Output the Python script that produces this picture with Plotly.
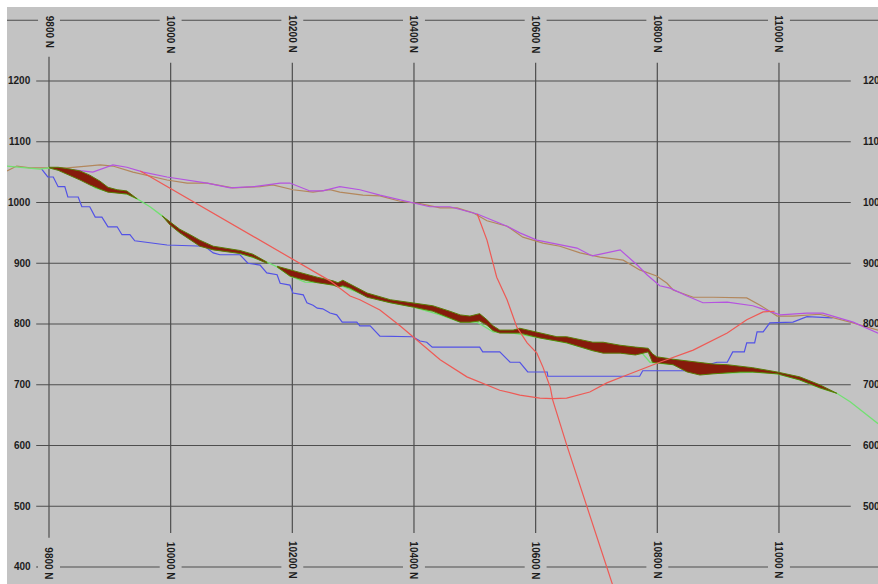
import plotly.graph_objects as go

# ---- section frame ----
northing_ticks = [9800, 10000, 10200, 10400, 10600, 10800, 11000]
northing_labels = ["9800 N", "10000 N", "10200 N", "10400 N", "10600 N", "10800 N", "11000 N"]
elev_ticks = [500, 600, 700, 800, 900, 1000, 1100, 1200]
elev_labels = ["500", "600", "700", "800", "900", "1000", "1100", "1200"]
frame_bottom = 400
frame_top = 1300

# ---- surfaces and traces (northing, elevation) ----
topo_n = [9731, 9752, 9785, 9800, 9826, 9851, 9876, 9892, 9908, 9928, 9945, 9966, 9986,
          10015, 10048, 10070, 10102, 10135, 10158, 10175, 10196, 10221, 10245, 10267,
          10283, 10323, 10361, 10398, 10443, 10476, 10504, 10530, 10563, 10607, 10651,
          10694, 10739, 10776, 10788, 10826, 10870, 10915, 10957, 10997, 11034, 11067,
          11095, 11117, 11141, 11163]
topo_z = [1060, 1058, 1055, 1057, 1052, 1042, 1024, 1019, 1017, 1014, 1006, 993, 978,
          951, 930, 923, 920, 910, 902, 894, 879, 869, 868, 864,
          862, 846, 835, 828, 815, 803, 803, 787, 785, 777, 769,
          756, 754, 751, 737, 733, 718, 719, 721, 718, 708, 695,
          686, 672, 654, 636]

brown_n = [9731, 9747, 9769, 9800, 9830, 9862, 9884, 9905, 9938, 9994, 10027, 10060, 10102,
           10147, 10168, 10201, 10234, 10262, 10278, 10316, 10344, 10377, 10410, 10443,
           10471, 10497, 10520, 10553, 10579, 10612, 10640, 10673, 10706, 10744, 10771,
           10799, 10816, 10826, 10859, 10892, 10947, 10969, 10997, 11023, 11067, 11117, 11163]
brown_z = [1052, 1060, 1057, 1057, 1057, 1060, 1062, 1060, 1050, 1037, 1032, 1032, 1024,
           1026, 1029, 1021, 1017, 1021, 1017, 1012, 1011, 1002, 998, 991,
           991, 983, 970, 961, 943, 933, 928, 917, 910, 905, 889,
           879, 867, 856, 844, 844, 843, 831, 813, 813, 816, 803, 790]

purple_n = [9800, 9830, 9872, 9905, 9928, 9955, 9994, 10027, 10060, 10098, 10135, 10180,
            10196, 10229, 10250, 10278, 10311, 10344, 10377, 10398, 10426, 10459, 10487,
            10504, 10553, 10574, 10602, 10645, 10668, 10693, 10739, 10767, 10783, 10804,
            10821, 10849, 10875, 10915, 10957, 11002, 11046, 11072, 11122, 11163]
purple_z = [1057, 1055, 1050, 1062, 1058, 1050, 1042, 1037, 1032, 1024, 1026, 1032,
            1032, 1019, 1019, 1026, 1021, 1012, 1004, 999, 993, 993, 986,
            981, 961, 950, 938, 930, 925, 912, 922, 897, 881, 863,
            859, 846, 835, 836, 830, 815, 818, 818, 803, 785]

blue_n = [9788, 9798, 9807, 9815, 9826, 9831, 9848, 9854, 9867, 9876, 9887, 9897, 9912,
          9920, 9933, 9941, 9994, 10037, 10056, 10070, 10081, 10114, 10127, 10147, 10158,
          10175, 10180, 10196, 10201, 10218, 10224, 10234, 10241, 10250, 10262, 10273,
          10282, 10306, 10311, 10328, 10344, 10398, 10410, 10421, 10430, 10508, 10513,
          10541, 10558, 10574, 10587, 10619, 10620, 10771, 10776, 10849, 10898, 10915,
          10924, 10943, 10947, 10960, 10964, 10974, 10985, 11023, 11046, 11088]
blue_z = [1055, 1042, 1042, 1026, 1026, 1009, 1009, 993, 993, 976, 976, 960, 960,
          947, 947, 937, 930, 928, 928, 917, 914, 914, 900, 897, 884,
          881, 867, 864, 851, 848, 835, 831, 826, 825, 818, 815,
          803, 803, 797, 797, 780, 779, 772, 770, 762, 762, 754,
          754, 737, 737, 721, 721, 714, 714, 723, 723, 737, 737,
          754, 754, 769, 769, 787, 787, 802, 803, 812, 810]

red_a_n = [9950, 10213, 10262, 10295, 10311, 10344, 10377, 10410, 10443, 10487, 10541,
           10574, 10607, 10628, 10651, 10689, 10717, 10750, 10804, 10859, 10915, 10947,
           10974, 10993]
red_a_z = [1052, 899, 871, 846, 840, 823, 797, 769, 741, 713, 691,
           683, 678, 677, 678, 688, 703, 716, 737, 757, 785, 807,
           820, 821]

red_b_n = [10504, 10520, 10536, 10553, 10569, 10586, 10602, 10612, 10624, 10628, 10651,
           10684, 10730]
red_b_z = [981, 938, 877, 840, 795, 769, 752, 729, 696, 675, 601,
           499, 360]

# ---- mineralised zone, three lenses (top / bottom elevations) ----
lens1_n = [9800, 9815, 9835, 9851, 9867, 9884, 9897, 9912, 9928, 9945]
lens1_top = [1058, 1058, 1055, 1052, 1045, 1035, 1025, 1021, 1019, 1007]
lens1_bot = [1057, 1053, 1044, 1037, 1029, 1022, 1017, 1016, 1014, 1006]

lens2_n = [9986, 9999, 10015, 10032, 10048, 10070, 10089, 10114, 10135, 10158]
lens2_top = [978, 968, 956, 947, 938, 928, 925, 921, 915, 902]
lens2_bot = [978, 963, 950, 938, 928, 922, 920, 916, 910, 900]

lens3_n = [10175, 10196, 10213, 10241, 10267, 10275, 10283, 10295, 10323, 10361, 10398,
           10431, 10459, 10476, 10492, 10508, 10520, 10530, 10541, 10563, 10574, 10607,
           10635, 10651, 10673, 10694, 10711, 10739, 10764, 10785, 10792, 10799, 10826,
           10849, 10870, 10892, 10915, 10936, 10957, 10997, 11034, 11067, 11095]
lens3_top = [895, 889, 884, 877, 871, 868, 872, 866, 851, 840, 835,
             830, 821, 815, 813, 817, 807, 797, 790, 790, 793, 785,
             779, 779, 775, 770, 770, 765, 762, 760, 751, 746, 742,
             739, 736, 734, 733, 731, 728, 721, 713, 700, 687]
lens3_bot = [894, 879, 874, 868, 864, 861, 863, 859, 844, 835, 828,
             821, 810, 803, 803, 805, 798, 789, 785, 785, 785, 777,
             772, 769, 762, 756, 752, 752, 749, 754, 737, 737, 733,
             721, 716, 718, 719, 721, 721, 718, 708, 695, 686]

# ---- view extents ----
X_RANGE = [9730.96, 11162.8]
Y_RANGE = [372.0, 1321.8]
GRID_X0, GRID_X1 = 9779, 11118      # extent of the interior elevation lines
GAP = 18                             # half-width of the break around each northing label
FRAME_X0_BOTTOM = 9779

GRID_COLOR = "#4e4e4e"
TEXT_COLOR = "#1c1c1c"
FONT = dict(family="Liberation Sans, Arial, sans-serif", size=10, color=TEXT_COLOR)

fig = go.Figure()

# grid: interior elevation lines
gx, gy = [], []
for e in elev_ticks:
    gx += [GRID_X0, GRID_X1, None]
    gy += [e, e, None]

# frame lines at bottom and top, broken around the northing labels
def broken_line(x_start, x_end, level):
    xs, ys = [], []
    cur = x_start
    for n in northing_ticks:
        xs += [cur, n - GAP, None]
        ys += [level, level, None]
        cur = n + GAP
    xs += [cur, x_end, None]
    ys += [level, level, None]
    return xs, ys

bx, by = broken_line(FRAME_X0_BOTTOM, X_RANGE[1] + 5, frame_bottom)
tx, ty = broken_line(X_RANGE[0] - 5, X_RANGE[1] + 5, frame_top)
gx += bx + tx
gy += by + ty

# vertical northing lines, stopping short of the labels
for n, lab in zip(northing_ticks, northing_labels):
    short = len(lab) < 7
    gx += [n, n, None]
    gy += [1240 if short else 1230, 448 if short else 456, None]

fig.add_trace(go.Scatter(x=gx, y=gy, mode="lines",
                         line=dict(color=GRID_COLOR, width=1.2),
                         hoverinfo="skip"))

# section lines
def add_line(xs, ys, color, width=1.2):
    fig.add_trace(go.Scatter(x=xs, y=ys, mode="lines",
                             line=dict(color=color, width=width),
                             hoverinfo="skip"))

add_line(blue_n, blue_z, "#5252e6")
add_line(brown_n, brown_z, "#b3875c")
add_line(purple_n, purple_z, "#b553e0")
add_line(topo_n, topo_z, "#72e072", 1.3)

# mineralised lenses
for ln, lt, lb in [(lens1_n, lens1_top, lens1_bot),
                   (lens2_n, lens2_top, lens2_bot),
                   (lens3_n, lens3_top, lens3_bot)]:
    fig.add_trace(go.Scatter(x=ln + ln[::-1], y=lt + lb[::-1],
                             mode="lines", fill="toself",
                             fillcolor="#861b0b",
                             line=dict(color="#5a7d06", width=1),
                             hoverinfo="skip"))

add_line(red_a_n, red_a_z, "#ee5a55")
add_line(red_b_n, red_b_z, "#ee5a55")

annotations = []
# elevation labels, left and right
for e, lab in zip(elev_ticks + [frame_bottom], elev_labels + ["400"]):
    annotations.append(dict(x=9774, y=e, text=f"<b>{lab}</b>", showarrow=False,
                            xanchor="right", yanchor="middle", font=FONT))
for e, lab in zip(elev_ticks, elev_labels):
    annotations.append(dict(x=11135, y=e, text=f"<b>{lab}</b>", showarrow=False,
                            xanchor="left", yanchor="middle", font=FONT))
# northing labels, top and bottom, reading downwards
for n, lab in zip(northing_ticks, northing_labels):
    short = len(lab) < 7
    annotations.append(dict(x=n, y=1281 if short else 1277, text=f"<b>{lab}</b>",
                            showarrow=False, textangle=90,
                            xanchor="center", yanchor="middle", font=FONT))
    annotations.append(dict(x=n, y=406 if short else 411, text=f"<b>{lab}</b>",
                            showarrow=False, textangle=90,
                            xanchor="center", yanchor="middle", font=FONT))

fig.update_layout(
    width=878, height=584,
    margin=dict(l=7, r=0, t=7, b=0),
    paper_bgcolor="white",
    plot_bgcolor="#c3c3c3",
    showlegend=False,
    annotations=annotations,
    xaxis=dict(range=X_RANGE, visible=False, fixedrange=True),
    yaxis=dict(range=Y_RANGE, visible=False, fixedrange=True),
)

fig.write_html("out.html", config={"displayModeBar": False})
